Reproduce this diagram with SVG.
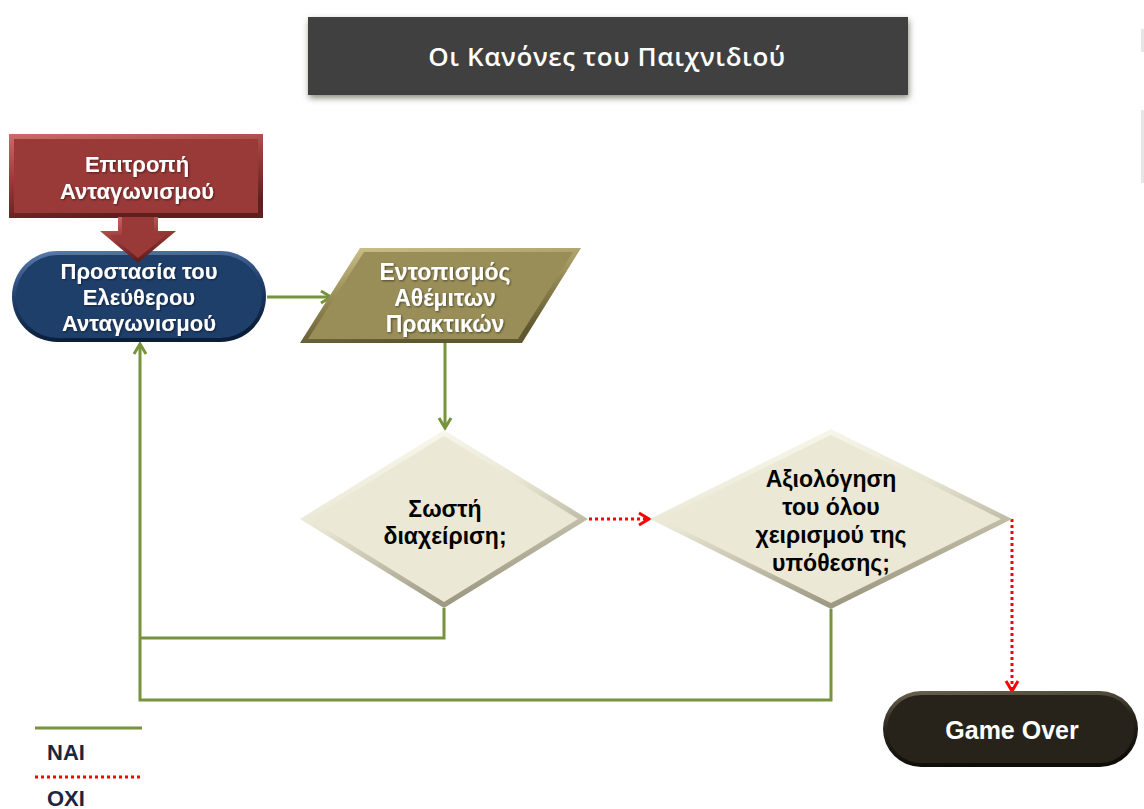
<svg xmlns="http://www.w3.org/2000/svg" width="1144" height="809" viewBox="0 0 1144 809">
<style>
.lbl{font-family:"Liberation Sans",Arial,sans-serif;font-weight:bold;text-anchor:middle}
.w{fill:#ffffff}
.k{fill:#000000}
.yes{fill:none;stroke:#77933C;stroke-width:3;stroke-linejoin:miter}
.no{fill:none;stroke:#FF0000;stroke-width:3;stroke-dasharray:3 3}
.legend{font-family:"Liberation Sans",Arial,sans-serif;font-weight:bold;font-size:22px;fill:#1B2642}
</style>
<defs>
<filter id="sh" x="-10%" y="-20%" width="120%" height="150%">
<feGaussianBlur in="SourceAlpha" stdDeviation="3"/>
<feOffset dx="1" dy="3" result="b"/>
<feFlood flood-color="#6d6d5e" flood-opacity="0.8"/>
<feComposite in2="b" operator="in"/>
<feMerge><feMergeNode/><feMergeNode in="SourceGraphic"/></feMerge>
</filter>
<filter id="ts" x="-5%" y="-20%" width="110%" height="140%">
<feGaussianBlur in="SourceAlpha" stdDeviation="0.8"/>
<feOffset dx="1" dy="1" result="b"/>
<feFlood flood-color="#000" flood-opacity="0.5"/>
<feComposite in2="b" operator="in"/>
<feMerge><feMergeNode/><feMergeNode in="SourceGraphic"/></feMerge>
</filter>
<linearGradient id="gRed" x1="0" y1="0" x2="0.3" y2="1">
<stop offset="0" stop-color="#C96C6A"/><stop offset="0.5" stop-color="#9B3B39"/><stop offset="1" stop-color="#5E1F1E"/>
</linearGradient>
<linearGradient id="gBlue" x1="0" y1="0" x2="0.2" y2="1">
<stop offset="0" stop-color="#5B7DAE"/><stop offset="0.5" stop-color="#1F3F6B"/><stop offset="1" stop-color="#0B1D38"/>
</linearGradient>
<linearGradient id="gOlive" x1="0" y1="0" x2="0.3" y2="1">
<stop offset="0" stop-color="#CFC48C"/><stop offset="0.5" stop-color="#998E58"/><stop offset="1" stop-color="#5F572F"/>
</linearGradient>
<linearGradient id="gTan" x1="0" y1="0" x2="0.4" y2="1">
<stop offset="0" stop-color="#FFFFF6"/><stop offset="0.5" stop-color="#E9E6D3"/><stop offset="1" stop-color="#9E9A83"/>
</linearGradient>
<linearGradient id="gDark" x1="0" y1="0" x2="0.2" y2="1">
<stop offset="0" stop-color="#6B6450"/><stop offset="0.5" stop-color="#28231A"/><stop offset="1" stop-color="#0F0D08"/>
</linearGradient>
<marker id="ag" markerWidth="16" markerHeight="16" refX="13" refY="8" orient="auto" markerUnits="userSpaceOnUse">
<path d="M3,2 L13,8 L3,14" fill="none" stroke="#77933C" stroke-width="3"/>
</marker>
<marker id="ar" markerWidth="16" markerHeight="16" refX="13" refY="8" orient="auto" markerUnits="userSpaceOnUse">
<path d="M3,2 L13,8 L3,14" fill="none" stroke="#FF0000" stroke-width="3"/>
</marker>
</defs>
<rect width="1144" height="809" fill="#ffffff"/>
<rect x="1141" y="29" width="3" height="23" fill="#e6e6e6"/>
<rect x="1141" y="110" width="3" height="73" fill="#e6e6e6"/>

<g id="title">
<rect x="308" y="17" width="600" height="78" fill="#404040" filter="url(#sh)"/>
<text x="607" y="66" font-family="'Open Sans','Noto Sans',sans-serif" font-weight="600" font-size="26" letter-spacing="0.6" fill="#ffffff" text-anchor="middle">Οι Κανόνες του Παιχνιδιού</text>
</g>

<g id="connectors">
<path class="yes" d="M267,297 L331,297" marker-end="url(#ag)"/>
<path class="yes" d="M445,343 L445,428" marker-end="url(#ag)"/>
<path class="no" d="M589,519 L649,519" marker-end="url(#ar)"/>
<path class="no" d="M1012,519 L1012,691" marker-end="url(#ar)"/>
<path class="yes" d="M444,608 L444,638 L140,638"/>
<path class="yes" d="M831,609 L831,700 L140,700 L140,344" marker-end="url(#ag)"/>
</g>

<g id="protection">
<rect x="12" y="251" width="254" height="91" rx="45.5" fill="url(#gBlue)"/>
<rect x="16" y="255" width="246" height="83" rx="41.5" fill="#1F3F6B"/>
<g filter="url(#ts)">
<text class="lbl w" x="139" y="279" font-size="22">Προστασία του</text>
<text class="lbl w" x="139" y="305" font-size="22">Ελεύθερου</text>
<text class="lbl w" x="139" y="331" font-size="22">Ανταγωνισμού</text>
</g>
</g>

<g id="commission">
<rect x="9" y="134" width="254" height="84" fill="url(#gRed)"/>
<rect x="14" y="139" width="244" height="74" fill="#9A3A38"/>
<polygon points="118,217 158,217 158,231 176,231 138,263 100,231 118,231" fill="url(#gRed)"/>
<polygon points="122,217 154,217 154,235 166,235 138,258 110,235 122,235" fill="#9A3A38"/>
<g filter="url(#ts)">
<text class="lbl w" x="137" y="172" font-size="22">Επιτροπή</text>
<text class="lbl w" x="137" y="199" font-size="22">Ανταγωνισμού</text>
</g>
</g>

<g id="detection">
<polygon points="360,248 581,248 522,343 300,343" fill="url(#gOlive)"/>
<polygon points="364,252 573,252 518,339 308,339" fill="#998E58"/>
<g filter="url(#ts)">
<text class="lbl w" x="445" y="280" font-size="23">Εντοπισμός</text>
<text class="lbl w" x="445" y="306" font-size="23">Αθέμιτων</text>
<text class="lbl w" x="445" y="332" font-size="23">Πρακτικών</text>
</g>
</g>

<g id="decision1">
<polygon points="300,519 444,430 588,519 444,608" fill="url(#gTan)"/>
<polygon points="310,519 444,436 578,519 444,602" fill="#EBE8D6"/>
<text class="lbl k" x="445" y="517" font-size="23">Σωστή</text>
<text class="lbl k" x="445" y="544" font-size="23">διαχείριση;</text>
</g>

<g id="decision2">
<polygon points="650,519 831,429 1012,519 831,609" fill="url(#gTan)"/>
<polygon points="661,519 831,435 1001,519 831,603" fill="#EBE8D6"/>
<text class="lbl k" x="831" y="487" font-size="23">Αξιολόγηση</text>
<text class="lbl k" x="831" y="515" font-size="23">του όλου</text>
<text class="lbl k" x="831" y="543" font-size="23">χειρισμού της</text>
<text class="lbl k" x="831" y="571" font-size="23">υπόθεσης;</text>
</g>

<g id="gameover">
<rect x="883" y="691" width="255" height="76" rx="38" fill="url(#gDark)"/>
<rect x="887" y="695" width="247" height="68" rx="34" fill="#28231A"/>
<text class="lbl w" x="1012" y="739" font-size="25">Game Over</text>
</g>

<g id="legend">
<line x1="35" y1="728" x2="142" y2="728" class="yes"/>
<text class="legend" x="47" y="760">ΝΑΙ</text>
<line x1="35" y1="777" x2="140" y2="777" class="no"/>
<text class="legend" x="47" y="806">ΟΧΙ</text>
</g>
</svg>
